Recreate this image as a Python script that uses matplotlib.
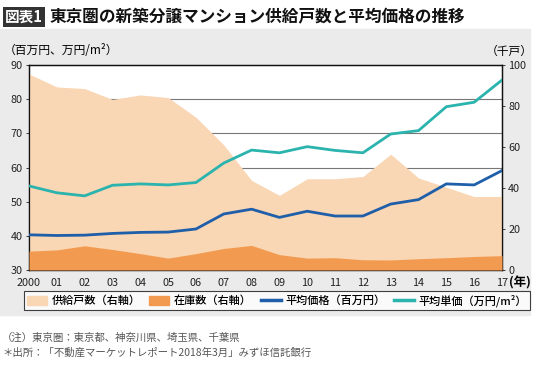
import numpy as np
import matplotlib.pyplot as plt
from matplotlib.patches import Rectangle, Patch
from matplotlib.lines import Line2D

plt.rcParams['font.family'] = ['Noto Sans CJK JP', 'DejaVu Sans']

# data
years = list(range(2000, 2018))
year_labels = ['2000'] + ['%02d' % (y % 100) for y in years[1:]]
supply = [95.6, 89.3, 88.5, 83.2, 85.4, 84.1, 74.5, 61.0, 43.7, 36.4,
          44.5, 44.5, 45.6, 56.5, 44.9, 40.4, 35.8, 35.9]          # 千戸
stock = [9.2, 9.8, 11.8, 10.0, 8.0, 5.8, 8.0, 10.5, 12.0, 7.5,
         5.8, 6.0, 5.0, 4.9, 5.5, 6.0, 6.6, 7.0]                   # 千戸
avg_price = [40.3, 40.1, 40.2, 40.7, 41.0, 41.1, 42.0, 46.4, 47.8, 45.4,
             47.2, 45.8, 45.8, 49.3, 50.6, 55.2, 54.9, 59.1]       # 百万円
unit_price = [54.6, 52.6, 51.7, 54.8, 55.2, 54.9, 55.6, 61.3, 65.1, 64.3,
              66.1, 65.0, 64.3, 69.8, 70.8, 77.8, 79.1, 85.6]      # 万円/m2

c_supply = '#f9d6b4'
c_stock = '#f29b50'
c_avg = '#1f5ea8'
c_unit = '#2bb3ae'

fig = plt.figure(figsize=(5.38, 3.65), dpi=100)
W, H = 538, 365

# gray panel behind chart
fig.patches.append(Rectangle((0, 1 - 315 / H), 530 / W, 286 / H,
                             transform=fig.transFigure, color='#ebebeb', zorder=-5))

ax = fig.add_axes([29 / W, (H - 270) / H, 473 / W, 205 / H])
ax.set_facecolor('white')
ax.set_xlim(2000, 2017)
ax.set_ylim(30, 90)
ax.set_yticks(range(30, 91, 10))
for v in (50, 60, 70, 80):
    ax.axhline(v, color='#777777', lw=0.8, zorder=1)

ax2 = ax.twinx()
ax2.set_ylim(0, 100)
ax2.set_yticks(range(0, 101, 20))
ax2.fill_between(years, 0, supply, color=c_supply, lw=0, zorder=2)
ax2.fill_between(years, 0, stock, color=c_stock, lw=0, zorder=3)

ax3 = ax.twinx()
ax3.set_ylim(30, 90)
ax3.axis('off')
ax3.plot(years, avg_price, color=c_avg, lw=2)
ax3.plot(years, unit_price, color=c_unit, lw=2)

ax.set_xticks(years)
ax.set_xticklabels(year_labels)
for a in (ax, ax2):
    a.tick_params(labelsize=7.8, length=2.5, width=0.6, pad=2, colors='#222222')
    for s in a.spines.values():
        s.set_linewidth(0.9)
        s.set_color('#111111')
ax.tick_params(axis='x', length=0, pad=6)

fig.text(4 / W, 1 - 51 / H, '（百万円、万円/m²）', fontsize=8.5, va='center', ha='left')
fig.text(533 / W, 1 - 51 / H, '（千戸）', fontsize=8.5, va='center', ha='right')
fig.text(509 / W, 1 - 283 / H, '(年)', fontsize=9, va='center', ha='left', weight='bold')

# title
fig.text(5 / W, 1 - 17 / H, '図表1', fontsize=10.5, weight='bold', color='white',
         va='center', ha='left',
         bbox=dict(boxstyle='square,pad=0.15', fc='#333333', ec='none'))
fig.text(50 / W, 1 - 17 / H, '東京圏の新築分譲マンション供給戸数と平均価格の推移',
         fontsize=12, weight='bold', va='center', ha='left', color='#111111')

handles = [Patch(color=c_supply), Patch(color=c_stock),
           Line2D([], [], color=c_avg, lw=2.5), Line2D([], [], color=c_unit, lw=2.5)]
labels = ['供給戸数（右軸）', '在庫数（右軸）', '平均価格（百万円）', '平均単価（万円/m²）']
leg = fig.legend(handles, labels, loc='center', bbox_to_anchor=(277 / W, 1 - 300.5 / H),
                 ncol=4, prop={'size': 8, 'weight': 'medium'}, frameon=True, fancybox=False,
                 handlelength=1.8, handleheight=0.9, handletextpad=0.4,
                 columnspacing=0.8, borderpad=0.25, borderaxespad=0)
leg.get_frame().set_edgecolor('#111111')
leg.get_frame().set_linewidth(0.8)

fig.text(2 / W, 1 - 338 / H, '（注）東京圏：東京都、神奈川県、埼玉県、千葉県',
         fontsize=7.5, color='#555555', va='center')
fig.text(2 / W, 1 - 353 / H, '＊出所：「不動産マーケットレポート2018年3月」みずほ信託銀行',
         fontsize=7.5, color='#555555', va='center')

fig.savefig('out.png', dpi=100)
